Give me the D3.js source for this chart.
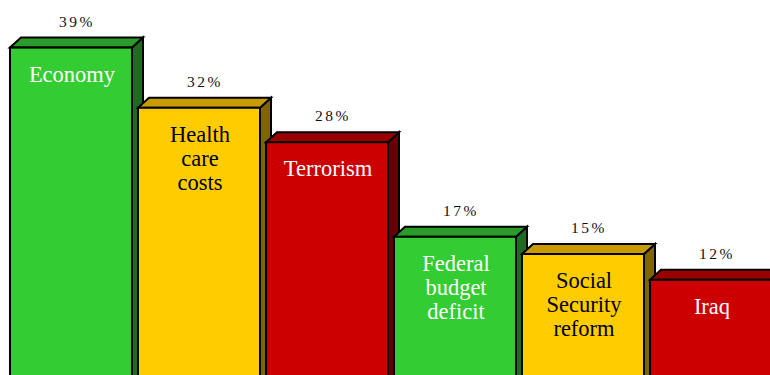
<!DOCTYPE html>
<html>
<head>
<meta charset="utf-8">
<script src="https://cdn.jsdelivr.net/npm/d3@7"></script>
<style>
  html, body { margin: 0; padding: 0; background: #fff; overflow: hidden; }
  svg { display: block; }
  .serif { font-family: "Liberation Serif", "Times New Roman", Times, serif; }
</style>
</head>
<body>
<svg id="chart" width="770" height="375"></svg>
<script>
// Issues and share of respondents
const categories = ["Economy", "Health care costs", "Terrorism", "Federal budget deficit", "Social Security reform", "Iraq"];
const labelLines = [["Economy"], ["Health", "care", "costs"], ["Terrorism"], ["Federal", "budget", "deficit"], ["Social", "Security", "reform"], ["Iraq"]];
const values = [39, 32, 28, 17, 15, 12];
const valueLabels = ["39%", "32%", "28%", "17%", "15%", "12%"];

// Face colours per bar: front, top, side, text
const frontColors = ["#33cc33", "#ffcc00", "#cc0000", "#33cc33", "#ffcc00", "#cc0000"];
const topColors   = ["#2b9b2b", "#c89b00", "#990000", "#2b9b2b", "#c89b00", "#990000"];
const sideColors  = ["#1f6b1f", "#806600", "#660000", "#1f6b1f", "#806600", "#660000"];
const textColors  = ["#ffffff", "#000000", "#ffffff", "#ffffff", "#000000", "#ffffff"];

const svg = d3.select("#chart");
const depthX = 11, depthY = 10;

const x = d3.scaleBand()
  .domain(categories)
  .range([10, 772])
  .paddingInner(6 / 128)
  .paddingOuter(0);

const y = d3.scaleLinear()
  .domain([0, 40])
  .range([383, 39]);

const data = categories.map((c, i) => ({
  cat: c, value: values[i], lines: labelLines[i], label: valueLabels[i],
  front: frontColors[i], top: topColors[i], side: sideColors[i], text: textColors[i]
}));

const bars = svg.selectAll("g.bar")
  .data(data)
  .join("g")
  .attr("class", "bar");

const bw = x.bandwidth();

// value labels above each bar
bars.append("text")
  .attr("class", "serif")
  .attr("x", d => x(d.cat) + bw / 2 + 6)
  .attr("y", d => y(d.value) - 21)
  .attr("text-anchor", "middle")
  .style("font-size", "15.5px")
  .style("letter-spacing", "2.5px")
  .attr("fill", "#111")
  .text(d => d.label);

// side face
bars.append("polygon")
  .attr("points", d => {
    const x1 = x(d.cat) + bw, t = y(d.value), b = y(0);
    return [[x1, t], [x1 + depthX, t - depthY], [x1 + depthX, b - depthY], [x1, b]].join(" ");
  })
  .attr("fill", d => d.side)
  .attr("stroke", "#000")
  .attr("stroke-width", 2)
  .attr("stroke-linejoin", "miter");

// top face
bars.append("polygon")
  .attr("points", d => {
    const x0 = x(d.cat), x1 = x0 + bw, t = y(d.value);
    return [[x0, t], [x0 + depthX, t - depthY], [x1 + depthX, t - depthY], [x1, t]].join(" ");
  })
  .attr("fill", d => d.top)
  .attr("stroke", "#000")
  .attr("stroke-width", 2)
  .attr("stroke-linejoin", "miter");

// front face
bars.append("rect")
  .attr("x", d => x(d.cat))
  .attr("y", d => y(d.value))
  .attr("width", bw)
  .attr("height", d => y(0) - y(d.value))
  .attr("fill", d => d.front)
  .attr("stroke", "#000")
  .attr("stroke-width", 2);

// category names inside the front face
bars.append("text")
  .attr("class", "serif")
  .attr("text-anchor", "middle")
  .style("font-size", "22.5px")
  .attr("fill", d => d.text)
  .each(function (d) {
    const t = d3.select(this);
    d.lines.forEach((ln, k) => {
      t.append("tspan")
        .attr("x", x(d.cat) + bw / 2 + 1)
        .attr("y", y(d.value) + 34 + k * 24)
        .text(ln);
    });
  });
</script>
</body>
</html>
